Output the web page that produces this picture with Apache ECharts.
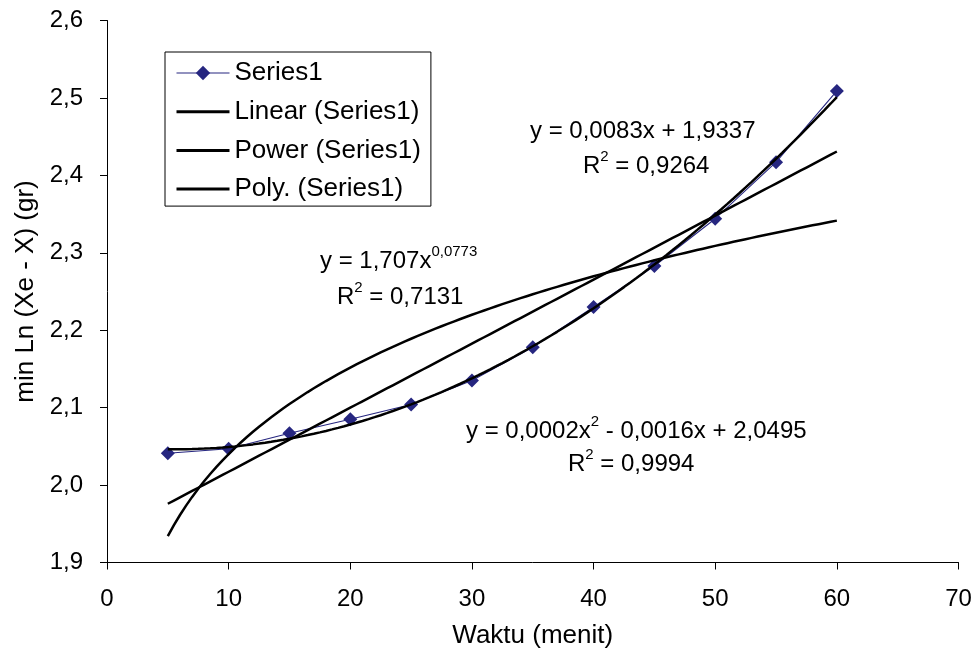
<!DOCTYPE html>
<html>
<head>
<meta charset="utf-8">
<script src="https://cdn.jsdelivr.net/npm/echarts@6/dist/echarts.min.js"></script>
<style>
  html, body { margin: 0; padding: 0; background: #fff; }
  #chart { width: 980px; height: 660px; }
</style>
</head>
<body>
<div id="chart"></div>
<script>
// Measurements: time (minutes) and min Ln (Xe - X)
const waktu = [5, 10, 15, 20, 25, 30, 35, 40, 45, 50, 55, 60];
const minLn = [2.041, 2.047, 2.067, 2.085, 2.104, 2.135, 2.178, 2.230, 2.283, 2.344, 2.417, 2.509];

// Axis ranges [min, max, interval]
const xRange = [0, 70, 10];
const yRange = [1.9, 2.6, 0.1];

// Series names as shown in the legend
const seriesNames = ['Series1', 'Linear (Series1)', 'Power (Series1)', 'Poly. (Series1)'];

// Trendline equation labels: [main, superscript, rest]
const eqLinear = ['y = 0,0083x + 1,9337', '', ''];
const r2Linear = '0,9264';
const eqPower = ['y = 1,707x', '0,0773', ''];
const r2Power = '0,7131';
const eqPoly = ['y = 0,0002x', '2', ' - 0,0016x + 2,0495'];
const r2Poly = '0,9994';

// ---- least-squares fits of the measured data ----
function linFit(xs, ys) {
  const n = xs.length;
  let sx = 0, sy = 0, sxx = 0, sxy = 0;
  for (let i = 0; i < n; i++) {
    sx += xs[i]; sy += ys[i]; sxx += xs[i] * xs[i]; sxy += xs[i] * ys[i];
  }
  const b = (n * sxy - sx * sy) / (n * sxx - sx * sx);
  const a = (sy - b * sx) / n;
  return { a, b };
}
function powFit(xs, ys) {
  const f = linFit(xs.map(Math.log), ys.map(Math.log));
  return { a: Math.exp(f.a), b: f.b };
}
function polyFit2(xs, ys) {
  const s = [0, 0, 0, 0, 0], t = [0, 0, 0];
  for (let i = 0; i < xs.length; i++) {
    let p = 1;
    for (let k = 0; k <= 4; k++) { s[k] += p; if (k <= 2) t[k] += p * ys[i]; p *= xs[i]; }
  }
  const M = [
    [s[0], s[1], s[2], t[0]],
    [s[1], s[2], s[3], t[1]],
    [s[2], s[3], s[4], t[2]]
  ];
  for (let c = 0; c < 3; c++) {
    for (let r = c + 1; r < 3; r++) {
      const f = M[r][c] / M[c][c];
      for (let k = c; k < 4; k++) M[r][k] -= f * M[c][k];
    }
  }
  const coef = [0, 0, 0];
  for (let r = 2; r >= 0; r--) {
    let v = M[r][3];
    for (let k = r + 1; k < 3; k++) v -= M[r][k] * coef[k];
    coef[r] = v / M[r][r];
  }
  return coef; // c0 + c1 x + c2 x^2
}

const lin = linFit(waktu, minLn);
const pw = powFit(waktu, minLn);
const pl = polyFit2(waktu, minLn);

const xStart = waktu[0], xEnd = waktu[waktu.length - 1];
const linData = [], powData = [], polyData = [];
for (let x = xStart; x <= xEnd + 1e-9; x += 0.5) {
  linData.push([x, lin.a + lin.b * x]);
  powData.push([x, pw.a * Math.pow(x, pw.b)]);
  polyData.push([x, pl[0] + pl[1] * x + pl[2] * x * x]);
}

const FONT = '"Liberation Sans", Arial, sans-serif';
const NAVY = '#262680';

function eqText(parts) {
  let s = '{m|' + parts[0] + '}';
  if (parts[1]) s += '{s|' + parts[1] + '}';
  if (parts[2]) s += '{m|' + parts[2] + '}';
  return s;
}
function r2Text(v) { return '{m|R}{s|2}{m| = ' + v + '}'; }

const richStyle = {
  m: { fontSize: 24, fontFamily: FONT, color: '#000', lineHeight: 34 },
  s: { fontSize: 15, fontFamily: FONT, color: '#000', lineHeight: 15, verticalAlign: 'top' }
};

function label(x, y, text) {
  return {
    type: 'text', x: x, y: y, z: 20,
    style: { text: text, rich: richStyle, align: 'left', verticalAlign: 'middle' }
  };
}

const chart = echarts.init(document.getElementById('chart'), null, { renderer: 'canvas' });

const option = {
  animation: false,
  backgroundColor: '#fff',
  textStyle: { fontFamily: FONT },
  grid: { left: 107, right: 21.5, top: 20.5, bottom: 97.5, containLabel: false },
  legend: {
    orient: 'vertical',
    left: 165, top: 52,
    data: seriesNames.map((n, i) => i === 0
      ? { name: n, lineStyle: { width: 1.2, color: NAVY, opacity: 1 }, itemStyle: { color: NAVY } }
      : { name: n, itemStyle: { opacity: 0 }, lineStyle: { width: 3, color: '#000', opacity: 1 } }),
    itemWidth: 53, itemHeight: 18, itemGap: 12.7,
    padding: [8, 10, 4, 10],
    borderColor: '#000', borderWidth: 1,
    backgroundColor: '#fff',
    textStyle: { fontSize: 26, lineHeight: 26, color: '#000', fontFamily: FONT }
  },
  xAxis: {
    type: 'value',
    min: xRange[0], max: xRange[1], interval: xRange[2],
    name: 'Waktu (menit)', nameLocation: 'middle', nameGap: 60,
    nameTextStyle: { fontSize: 26, color: '#000', fontFamily: FONT },
    axisLine: { lineStyle: { color: '#000', width: 1 } },
    axisTick: { show: true, length: 7, lineStyle: { color: '#000' } },
    axisLabel: { fontSize: 24, color: '#000', margin: 25, fontFamily: FONT },
    splitLine: { show: false }
  },
  yAxis: {
    type: 'value',
    min: yRange[0], max: yRange[1], interval: yRange[2],
    name: 'min Ln (Xe - X) (gr)', nameLocation: 'middle', nameGap: 67,
    nameTextStyle: { fontSize: 26, color: '#000', fontFamily: FONT },
    axisLine: { show: true, lineStyle: { color: '#000', width: 1 } },
    axisTick: { show: true, length: 7, lineStyle: { color: '#000' } },
    axisLabel: {
      fontSize: 24, color: '#000', margin: 24, fontFamily: FONT,
      formatter: v => v.toFixed(1).replace('.', ',')
    },
    splitLine: { show: false }
  },
  series: [
    {
      name: seriesNames[0], type: 'line',
      data: waktu.map((x, i) => [x, minLn[i]]),
      symbol: 'diamond', symbolSize: 14, showAllSymbol: true,
      lineStyle: { color: NAVY, width: 1.1 },
      itemStyle: { color: NAVY },
      z: 2
    },
    {
      name: seriesNames[1], type: 'line', data: linData, symbol: 'none',
      lineStyle: { color: '#000', width: 2.5 }, itemStyle: { color: '#000' }, z: 3
    },
    {
      name: seriesNames[2], type: 'line', data: powData, symbol: 'none',
      lineStyle: { color: '#000', width: 2.5 }, itemStyle: { color: '#000' }, z: 3
    },
    {
      name: seriesNames[3], type: 'line', data: polyData, symbol: 'none',
      lineStyle: { color: '#000', width: 2.5 }, itemStyle: { color: '#000' }, z: 3
    }
  ],
  graphic: [
    label(530, 131, eqText(eqLinear)),
    label(583, 166, r2Text(r2Linear)),
    label(320, 261, eqText(eqPower)),
    label(337, 297, r2Text(r2Power)),
    label(466, 431, eqText(eqPoly)),
    label(568, 464, r2Text(r2Poly))
  ]
};

chart.setOption(option);
</script>
</body>
</html>
